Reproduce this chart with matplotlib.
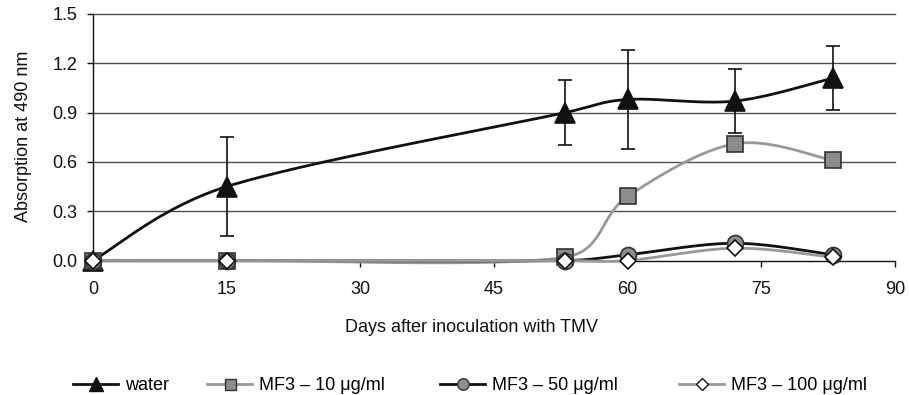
import numpy as np
import matplotlib
matplotlib.use("Agg")
import matplotlib.pyplot as plt
from matplotlib.lines import Line2D

plt.rcParams['font.family'] = ['Liberation Sans', 'DejaVu Sans']

days = [0, 15, 53, 60, 72, 83]
water = [0.00, 0.45, 0.90, 0.98, 0.97, 1.11]
water_err = [0.00, 0.30, 0.20, 0.30, 0.195, 0.195]
mf3_10 = [0.00, 0.00, 0.02, 0.39, 0.71, 0.61]
mf3_50 = [0.00, 0.00, 0.00, 0.035, 0.105, 0.035]
mf3_100 = [0.00, 0.00, 0.00, 0.00, 0.075, 0.02]

labels = ['water', 'MF3 – 10 μg/ml', 'MF3 – 50 μg/ml', 'MF3 – 100 μg/ml']
xticks = [0, 15, 30, 45, 60, 75, 90]
yticks = [0.0, 0.3, 0.6, 0.9, 1.2, 1.5]

W, H = 909, 395
FS = 13
fig = plt.figure(figsize=(W / 100, H / 100), dpi=100)
L, R, T, B = 93, 895, 14, 260.5
ax = fig.add_axes([L / W, 1 - B / H, (R - L) / W, (B - T) / H])
ax.set_xlim(0, 90)
ax.set_ylim(0, 1.5)

sx = (R - L) / 90.0
sy = (B - T) / 1.5


def smooth(xs, ys, n=60, f=1 / 6.0, clamp=0.45):
    P = np.column_stack([np.asarray(xs, float) * sx, np.asarray(ys, float) * sy])
    Pe = np.vstack([P[0], P, P[-1]])
    out = []
    t = np.linspace(0, 1, n)[:, None]
    for i in range(len(P) - 1):
        p0, p1, p2, p3 = Pe[i], Pe[i + 1], Pe[i + 2], Pe[i + 3]
        seg = np.linalg.norm(p2 - p1)
        d1 = f * (p2 - p0)
        d2 = f * (p3 - p1)
        for d in (d1, d2):
            m = np.linalg.norm(d)
            if m > clamp * seg and m > 0:
                d *= clamp * seg / m
        c1 = p1 + d1
        c2 = p2 - d2
        s = ((1 - t) ** 3) * p1 + 3 * ((1 - t) ** 2) * t * c1 + 3 * (1 - t) * t ** 2 * c2 + t ** 3 * p2
        out.append(s if i == 0 else s[1:])
    C = np.vstack(out)
    return C[:, 0] / sx, C[:, 1] / sy


grid_col = '#505050'
for y in yticks[1:]:
    ax.axhline(y, color=grid_col, lw=1.0, zorder=1, clip_on=False)

series = [
    (water, '#111111', dict(marker='^', mfc='#111111', mec='#111111', ms=14)),
    (mf3_10, '#999999', dict(marker='s', mfc='#8c8c8c', mec='#333333', ms=11)),
    (mf3_50, '#111111', dict(marker='o', mfc='#8c8c8c', mec='#333333', ms=11.5)),
    (mf3_100, '#999999', dict(marker='D', mfc='white', mec='#111111', ms=8.5)),
]

z = 3
for vals, col, mk in series:
    xs, ys = smooth(days, vals)
    ax.plot(xs, ys, color=col, lw=2.0, zorder=z, clip_on=False, solid_capstyle='round')
    z += 1

for vals, col, mk in series:
    ax.plot(days, vals, ls='none', mew=1.2, zorder=z, clip_on=False, **mk)
    z += 1

ax.errorbar(days[1:], water[1:], yerr=water_err[1:], fmt='none', ecolor='#111111',
            elinewidth=1.2, capsize=5, capthick=1.2, zorder=z, clip_on=False)

for s in ['top', 'right']:
    ax.spines[s].set_visible(False)
for s in ['left', 'bottom']:
    ax.spines[s].set_color('#111111')
    ax.spines[s].set_linewidth(1.0)
ax.set_xticks(xticks)
ax.set_yticks(yticks)
ax.set_yticklabels([f'{v:.1f}' for v in yticks])
ax.tick_params(axis='both', direction='out', length=4, width=1.0, color='#111111',
               labelsize=FS, labelcolor='#111111')
ax.tick_params(axis='x', pad=10.5)
ax.tick_params(axis='y', pad=7)

fig.text(471 / W, 1 - 327 / H, 'Days after inoculation with TMV', fontsize=FS,
         color='#111111', ha='center', va='center')
fig.text(24 / W, 1 - 136 / H, 'Absorption at 490 nm', fontsize=FS, rotation=90,
         color='#111111', ha='center', va='center')

starts = [73, 207, 440, 679]
for (vals, col, mk), lab, x0 in zip(series, labels, starts):
    m = dict(mk)
    m['ms'] = m['ms'] * 0.72
    h = Line2D([], [], color=col, lw=2.0, mew=1.0, label=lab, **m)
    leg = fig.legend(handles=[h], loc='center left', bbox_to_anchor=(x0 / W, 1 - 386 / H),
                     frameon=False, fontsize=FS, handlelength=2.5, handletextpad=0.4,
                     borderpad=0, borderaxespad=0)

fig.savefig('out.png', dpi=100)
